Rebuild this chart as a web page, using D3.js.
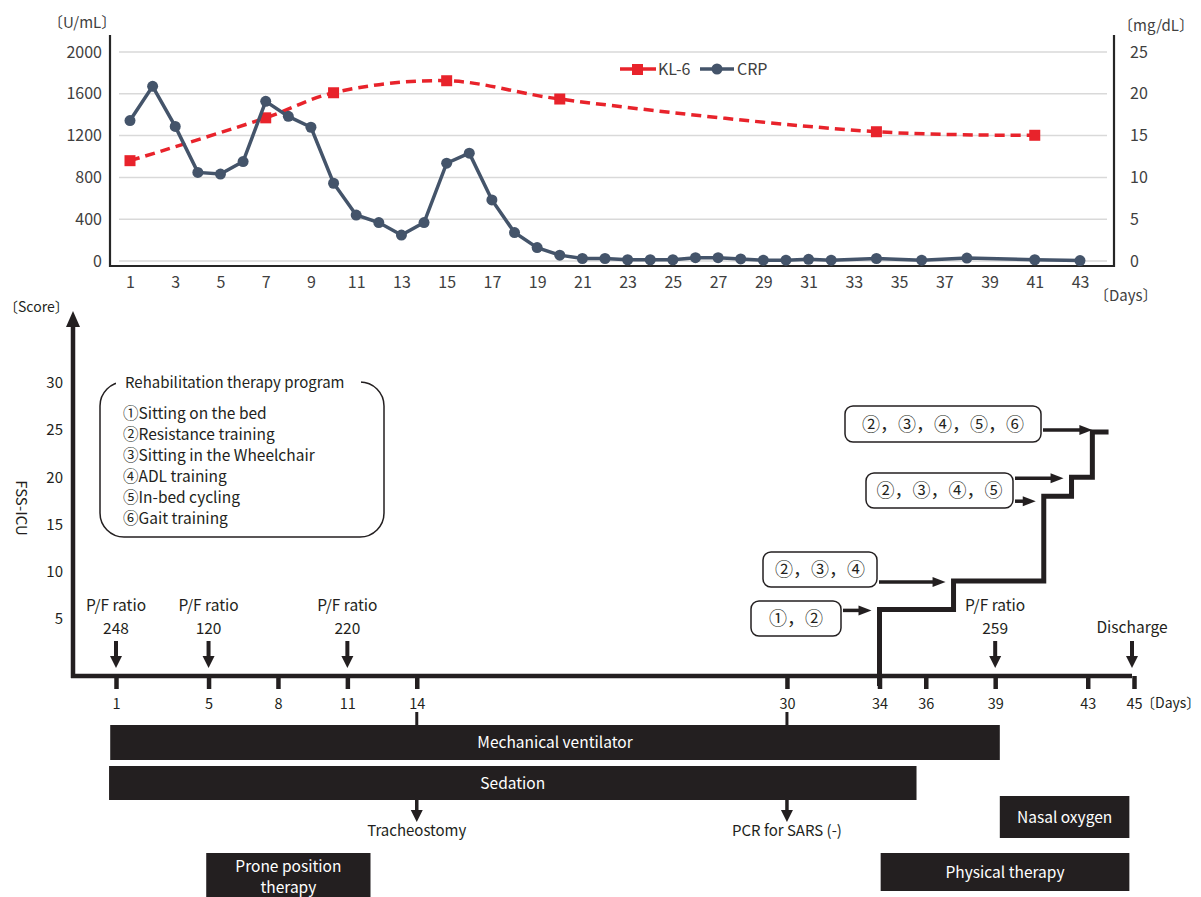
<!DOCTYPE html>
<html>
<head>
<meta charset="utf-8">
<script src="https://cdn.jsdelivr.net/npm/d3@7"></script>
<style>
  body { margin: 0; background: #fff; }
  svg { display: block; }
</style>
</head>
<body>
<div id="chart"></div>
<script>
// ---------- data ----------
var crpDays   = [1,2,3,4,5,6,7,8,9,10,11,12,13,14,15,16,17,18,19,20,21,22,23,24,25,26,27,28,29,30,31,32,34,36,38,41,43];
var crpValues = [16.8,20.9,16.1,10.6,10.4,11.9,19.1,17.3,16.0,9.3,5.5,4.6,3.1,4.6,11.7,12.9,7.3,3.4,1.6,0.7,0.3,0.3,0.15,0.15,0.15,0.4,0.4,0.25,0.1,0.1,0.2,0.1,0.3,0.1,0.35,0.15,0.05];
var kl6Days   = [1,7,10,15,20,34,41];
var kl6Values = [960,1370,1610,1725,1550,1237,1203];
var leftTicks  = [0,400,800,1200,1600,2000];
var rightTicks = [0,5,10,15,20,25];
var topDayTicks = [1,3,5,7,9,11,13,15,17,19,21,23,25,27,29,31,33,35,37,39,41,43];

var timelineTicks = [1,5,8,11,14,30,34,36,39,43,45];
var fssTicks  = [5,10,15,20,25,30];
var fssDays   = [34,37.2,41.1,42.3,43.2,43.9];
var fssScores = [6,9,18,20,24.8,24.8];
var pfDays    = [1,5,11,39];
var pfValues  = [248,120,220,259];
var dischargeDay = 45;
var programItems = ['①Sitting on the bed','②Resistance training','③Sitting in the Wheelchair','④ADL training','⑤In-bed cycling','⑥Gait training'];
var stageLabels  = ['①，②','②，③，④','②，③，④，⑤','②，③，④，⑤，⑥'];
var stageTargets = [[0],[1],[2,3],[4]];   // which step(s) each box points at
var barNames = ['Mechanical ventilator','Sedation','Nasal oxygen','Physical therapy','Prone position|therapy'];
var barStart = [0.75,0.7,39.2,34.05,4.9];
var barEnd   = [39.2,35.6,44.8,44.8,12];
var eventNames = ['Tracheostomy','PCR for SARS (-)'];
var eventDays  = [14,30];

// ---------- setup ----------
var font = '"Noto Sans CJK JP","Noto Sans",sans-serif';
var ink = '#231f20';
var svg = d3.select('#chart').append('svg')
    .attr('width', 1201).attr('height', 897)
    .style('font-family', font);

// ================= top chart =================
var xTop   = d3.scaleLinear().domain([1,43]).range([130,1080]);
var yLeft  = d3.scaleLinear().domain([0,2000]).range([261,52]);
var yRight = d3.scaleLinear().domain([0,25]).range([261,52]);

var topG = svg.append('g');

topG.selectAll('.grid').data(leftTicks).enter().append('line')
    .attr('x1', 119).attr('x2', 1107)
    .attr('y1', d => yLeft(d)).attr('y2', d => yLeft(d))
    .attr('stroke', '#d9d9d9').attr('stroke-width', 1.5);

function styleAxis(g, size, color){
    g.select('.domain').remove();
    g.attr('font-family', font).attr('font-size', size);
    g.selectAll('text').attr('fill', color);
}

topG.append('g').attr('transform','translate(110,0)')
    .call(d3.axisLeft(yLeft).tickValues(leftTicks).tickFormat(d3.format('d')).tickSize(0).tickPadding(8))
    .call(g => styleAxis(g, 16, '#404040'));
topG.append('g').attr('transform','translate(1114,0)')
    .call(d3.axisRight(yRight).tickValues(rightTicks).tickSize(0).tickPadding(16))
    .call(g => styleAxis(g, 16, '#404040'));
topG.append('g').attr('transform','translate(0,266)')
    .call(d3.axisBottom(xTop).tickValues(topDayTicks).tickSize(0).tickPadding(11))
    .call(g => styleAxis(g, 16, '#404040'));

topG.append('path')
    .attr('d', 'M110,35V266H1114V35')
    .attr('fill','none').attr('stroke','#262626').attr('stroke-width',2.2);

topG.append('text').attr('x',48).attr('y',28).attr('font-size',15).attr('fill','#404040').text('〔U/mL〕');
topG.append('text').attr('x',1118).attr('y',31).attr('font-size',15).attr('fill','#404040').text('〔mg/dL〕');
topG.append('text').attr('x',1094).attr('y',301).attr('font-size',15).attr('fill','#404040').text('〔Days〕');

// KL-6 (smoothed dashed)
var kl6 = kl6Days.map((d,i) => [d, kl6Values[i]]);
topG.append('path').datum(kl6)
    .attr('d', d3.line().x(d => xTop(d[0])).y(d => yLeft(d[1])).curve(d3.curveCatmullRom))
    .attr('fill','none').attr('stroke','#e8232b').attr('stroke-width',3.5)
    .attr('stroke-dasharray','10,6');
topG.selectAll('.kl6').data(kl6).enter().append('rect')
    .attr('x', d => xTop(d[0]) - 5.5).attr('y', d => yLeft(d[1]) - 5.5)
    .attr('width', 11).attr('height', 11).attr('fill','#e8232b');

// CRP
var crp = crpDays.map((d,i) => [d, crpValues[i]]);
topG.append('path').datum(crp)
    .attr('d', d3.line().x(d => xTop(d[0])).y(d => yRight(d[1])))
    .attr('fill','none').attr('stroke','#44546a').attr('stroke-width',3.5);
topG.selectAll('.crp').data(crp).enter().append('circle')
    .attr('cx', d => xTop(d[0])).attr('cy', d => yRight(d[1]))
    .attr('r', 5.5).attr('fill','#44546a');

// legend
var lg = topG.append('g');
lg.append('line').attr('x1',620).attr('x2',656).attr('y1',69).attr('y2',69)
    .attr('stroke','#e8232b').attr('stroke-width',3.5);
lg.append('rect').attr('x',632).attr('y',64).attr('width',11).attr('height',11).attr('fill','#e8232b');
lg.append('text').attr('x',658).attr('y',75).attr('font-size',16).attr('fill','#404040').text('KL-6');
lg.append('line').attr('x1',700).attr('x2',734).attr('y1',69).attr('y2',69)
    .attr('stroke','#44546a').attr('stroke-width',3.5);
lg.append('circle').attr('cx',717).attr('cy',69).attr('r',5.5).attr('fill','#44546a');
lg.append('text').attr('x',737).attr('y',75).attr('font-size',16).attr('fill','#404040').text('CRP');

// ================= lower timeline =================
var xLow = d3.scaleLinear().domain([1,45]).range([116,1134]);
var yFss = d3.scaleLinear().domain([0,30]).range([666,383]);
var axisY = 676;
var low = svg.append('g');

function arrowDown(g, x, y1, y2, hw, hl, sw){
    g.append('line').attr('x1',x).attr('x2',x).attr('y1',y1).attr('y2',y2 - hl + 1)
        .attr('stroke',ink).attr('stroke-width',sw);
    g.append('path').attr('d','M'+(x-hw)+','+(y2-hl)+'L'+(x+hw)+','+(y2-hl)+'L'+x+','+y2+'Z')
        .attr('fill',ink);
}
function arrowRight(g, x1, x2, y, hw, hl, sw){
    g.append('line').attr('x1',x1).attr('x2',x2 - hl + 1).attr('y1',y).attr('y2',y)
        .attr('stroke',ink).attr('stroke-width',sw);
    g.append('path').attr('d','M'+(x2-hl)+','+(y-hw)+'L'+(x2-hl)+','+(y+hw)+'L'+x2+','+y+'Z')
        .attr('fill',ink);
}

// y axis arrow
low.append('line').attr('x1',73).attr('x2',73).attr('y1',axisY+2).attr('y2',326)
    .attr('stroke',ink).attr('stroke-width',4.5);
low.append('path').attr('d','M66,327L80,327L73,311Z').attr('fill',ink);

low.append('g').attr('transform','translate(73,0)')
    .call(d3.axisLeft(yFss).tickValues(fssTicks).tickSize(0).tickPadding(10))
    .call(g => styleAxis(g, 15, ink));

low.append('text').attr('x',4).attr('y',312).attr('font-size',14).attr('fill',ink).text('〔Score〕');
low.append('text').attr('transform','translate(16,508) rotate(90)')
    .attr('text-anchor','middle').attr('font-size',15).attr('fill',ink).text('FSS-ICU');

// x axis
low.append('line').attr('x1',71).attr('x2',1132).attr('y1',axisY).attr('y2',axisY)
    .attr('stroke',ink).attr('stroke-width',4.5);
low.append('g').attr('transform','translate(0,'+axisY+')')
    .call(d3.axisBottom(xLow).tickValues(timelineTicks).tickSize(13).tickPadding(10))
    .call(g => styleAxis(g, 14.5, ink))
    .call(g => g.selectAll('.tick line').attr('stroke',ink).attr('stroke-width',4.5));
low.append('text').attr('x',1141).attr('y',708).attr('font-size',14).attr('fill',ink).text('〔Days〕');

// P/F ratio and discharge arrows
pfDays.forEach(function(d, i){
    var x = xLow(d);
    low.append('text').attr('x',x).attr('y',611).attr('text-anchor','middle')
        .attr('font-size',15.5).attr('fill',ink).text('P/F ratio');
    low.append('text').attr('x',x).attr('y',634).attr('text-anchor','middle')
        .attr('font-size',15.5).attr('fill',ink).text(pfValues[i]);
    arrowDown(low, x, 641, 668, 6, 12, 4);
});
low.append('text').attr('x',xLow(dischargeDay)-2).attr('y',633).attr('text-anchor','middle')
    .attr('font-size',15.5).attr('fill',ink).text('Discharge');
arrowDown(low, xLow(dischargeDay)-2, 641, 668, 6, 12, 4);

// rehabilitation program box
var rb = low.append('g');
rb.append('rect').attr('x',100).attr('y',382).attr('width',284).attr('height',155).attr('rx',24)
    .attr('fill','none').attr('stroke',ink).attr('stroke-width',1.5);
rb.append('rect').attr('x',116).attr('y',372).attr('width',245).attr('height',20).attr('fill','#fff');
rb.append('text').attr('x',125).attr('y',388).attr('font-size',15).attr('fill',ink)
    .text('Rehabilitation therapy program');
rb.selectAll('.item').data(programItems).enter().append('text')
    .attr('x',123).attr('y',(d,i) => 419 + i*21).attr('font-size',15.5).attr('fill',ink)
    .text(d => d);

// FSS-ICU step line
var steps = fssDays.map((d,i) => [d, fssScores[i]]);
steps.unshift([fssDays[0], null]);
low.append('path').datum(steps)
    .attr('d', d3.line().x(d => xLow(d[0])).y(d => d[1] === null ? axisY + 10 : yFss(d[1])).curve(d3.curveStepAfter))
    .attr('fill','none').attr('stroke',ink).attr('stroke-width',5).attr('stroke-linejoin','miter');

// stage boxes pointing at the steps
var boxLayout = [[751,601,90,35],[763,552,114,35],[866,473,147,35],[845,406,196,36]];
stageLabels.forEach(function(lab, i){
    var b = boxLayout[i];
    low.append('rect').attr('x',b[0]).attr('y',b[1]).attr('width',b[2]).attr('height',b[3]).attr('rx',8)
        .attr('fill','#fff').attr('stroke',ink).attr('stroke-width',1.5);
    low.append('text').attr('x',b[0]+b[2]/2).attr('y',b[1]+b[3]/2+6.5).attr('text-anchor','middle')
        .attr('font-size',18).attr('fill',ink).text(lab);
    stageTargets[i].forEach(function(k, j){
        var tx = xLow(fssDays[k]) - 8;
        var ty = yFss(fssScores[k]) + (stageTargets[i].length > 1 && j === 0 ? 5 : 1);
        if (i === 3) { tx = xLow(fssDays[k]); ty = yFss(fssScores[k]) - 2; }
        arrowRight(low, b[0]+b[2]+2, tx, ty, 5, 13, 3.5);
    });
});

// bars
var barRows = [[725,35],[766,34],[796,42],[853,38],[853,48]];
barNames.forEach(function(name, i){
    var x0 = xLow(barStart[i]), x1 = xLow(barEnd[i]);
    var r = barRows[i];
    low.append('rect').attr('x',x0).attr('y',r[0]).attr('width',x1-x0).attr('height',r[1])
        .attr('fill',ink);
    var lines = name.split('|');
    lines.forEach(function(t, j){
        low.append('text').attr('x',(x0+x1)/2)
            .attr('y', r[0] + r[1]/2 + 5.5 + (j - (lines.length-1)/2) * 21)
            .attr('text-anchor','middle').attr('font-size',15.5).attr('fill','#fff').text(t);
    });
});

// events: connectors to the ventilator bar and arrows below sedation
eventDays.forEach(function(d, i){
    var x = xLow(d);
    low.append('line').attr('x1',x).attr('x2',x).attr('y1',712).attr('y2',726)
        .attr('stroke',ink).attr('stroke-width',3);
    arrowDown(low, x, 800, 822, 6, 12, 3.5);
    low.append('text').attr('x',x).attr('y',836).attr('text-anchor','middle')
        .attr('font-size',15).attr('fill',ink).text(eventNames[i]);
});
</script>
</body>
</html>
